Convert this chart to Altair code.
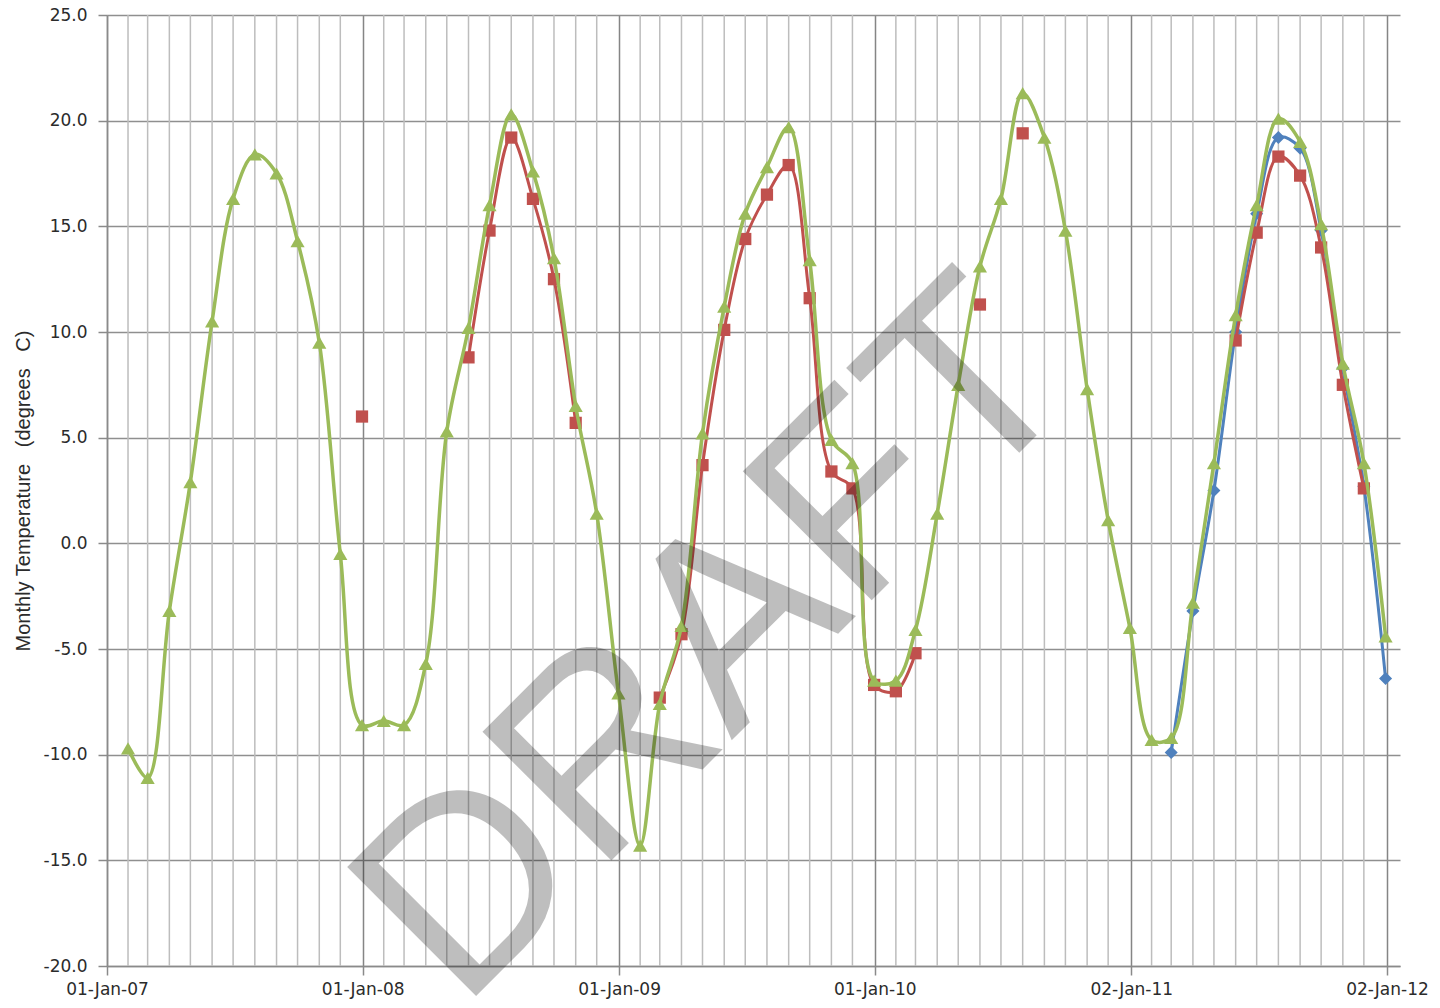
import altair as alt
import pandas as pd

# ---------------- data ----------------
years = [2007, 2008, 2009, 2010, 2011]
month_ends = [pd.Timestamp(y, m, 1) + pd.offsets.MonthEnd(0) for y in years for m in range(1, 13)]

green_temp = [
    -9.7, -11.1, -3.2, 2.9, 10.5, 16.3, 18.4, 17.5, 14.3, 9.5, -0.5, -8.6,
    -8.4, -8.6, -5.7, 5.3, 10.2, 16.0, 20.3, 17.6, 13.5, 6.5, 1.4, -7.1,
    -14.3, -7.6, -3.9, 5.2, 11.2, 15.6, 17.8, 19.7, 13.4, 4.9, 3.8, -6.5,
    -6.5, -4.1, 1.4, 7.5, 13.1, 16.3, 21.3, 19.2, 14.8, 7.3, 1.1, -4.0,
    -9.3, -9.2, -2.8, 3.8, 10.8, 16.0, 20.1, 19.0, 15.1, 8.5, 3.8, -4.4,
]
red_temp = [
    None, None, None, None, None, None, None, None, None, None, None, 6.0,
    None, None, None, None, 8.8, 14.8, 19.2, 16.3, 12.5, 5.7, None, None,
    None, -7.3, -4.3, 3.7, 10.1, 14.4, 16.5, 17.9, 11.6, 3.4, 2.6, -6.7,
    -7.0, -5.2, None, None, 11.3, None, 19.4, None, None, None, None, None,
    None, None, None, None, 9.6, 14.7, 18.3, 17.4, 14.0, 7.5, 2.6, None,
]
blue_temp = [None] * 48 + [
    None, -9.9, -3.2, 2.5, 10.0, 15.6, 19.2, 18.7, 14.8, 8.3, 2.7, -6.4,
]

x_tick_dates = [(2007, 1, 1), (2008, 1, 1), (2009, 1, 1), (2010, 1, 1), (2011, 1, 2), (2012, 1, 2)]
y_ticks = [-20, -15, -10, -5, 0, 5, 10, 15, 20, 25]
y_title = "Monthly Temperature\u00a0\u00a0 (degrees\u00a0\u00a0 C)"
watermark = "DRAFT"

GREEN, RED, BLUE = "#9BBB59", "#C0504D", "#4F81BD"


def frame(values):
    rows, seg, prev = [], 0, False
    for d, v in zip(month_ends, values):
        if v is None:
            prev = False
            continue
        if not prev:
            seg += 1
        rows.append({"date": d, "temp": v, "seg": seg})
        prev = True
    return pd.DataFrame(rows)


green_df = frame(green_temp)
red_df = frame(red_temp)
blue_df = frame(blue_temp)
minor_df = pd.DataFrame({"date": [d for d in month_ends if d.month != 12]})

# ---------------- encodings ----------------
X = alt.X(
    "date:T",
    scale=alt.Scale(
        domain=[alt.DateTime(year=2007, month=1, date=1),
                alt.DateTime(year=2012, month=1, date=20, hours=14)],
        nice=False,
    ),
    axis=alt.Axis(
        values=[alt.DateTime(year=y, month=m, date=d) for (y, m, d) in x_tick_dates],
        format="%d-%b-%y",
        title=None,
        labelFlush=False,
        labelFont="DejaVu Sans",
        labelFontSize=17,
        labelColor="#2b2b2b",
        labelPadding=6,
        tickSize=9,
        tickColor="#8a8a8a",
        tickWidth=1.5,
        domainColor="#8a8a8a",
        domainWidth=1.5,
        grid=True,
        gridColor="#858585",
        gridWidth=1.5,
    ),
)

Y = alt.Y(
    "temp:Q",
    scale=alt.Scale(domain=[-20, 25], nice=False, zero=False),
    axis=alt.Axis(
        values=y_ticks,
        format=".1f",
        labelExpr="replace(datum.label, '\u2212', '-')",
        title=y_title,
        titleFont="Liberation Sans",
        titleFontSize=20,
        titleFontWeight="normal",
        titleColor="#2b2b2b",
        titlePadding=10,
        labelFont="DejaVu Sans",
        labelFontSize=17,
        labelColor="#2b2b2b",
        labelPadding=11,
        tickSize=9,
        tickColor="#8a8a8a",
        tickWidth=1.5,
        domainColor="#8a8a8a",
        domainWidth=1.5,
        grid=True,
        gridColor="#8f8f8f",
        gridWidth=1.5,
    ),
)

minor = alt.Chart(minor_df).mark_rule(color="#bdbdbd", strokeWidth=1.5).encode(x=X)


def series(df, color, shape, size, width):
    line = alt.Chart(df).mark_line(color=color, strokeWidth=width, interpolate="catmull-rom").encode(
        x=X, y=Y, detail="seg:N"
    )
    pts = alt.Chart(df).mark_point(shape=shape, filled=True, size=size, color=color, opacity=1).encode(
        x=X, y=Y
    )
    return [line, pts]


layers = [minor]
layers += series(blue_df, BLUE, "diamond", 170, 3)
layers += series(red_df, RED, "square", 150, 3)
layers += series(green_df, GREEN, "triangle-up", 200, 3.5)

wm = alt.Chart(pd.DataFrame({"t": [watermark]})).mark_text(
    angle=315, fontSize=265, font="Liberation Sans", align="center", baseline="alphabetic",
    color="#000000", opacity=0.25,
).encode(text="t:N", x=alt.value(666), y=alt.value(684))
layers.append(wm)

chart = alt.layer(*layers).properties(
    width=1293,
    height=951,
    autosize=alt.AutoSizeParams(type="none"),
    padding={"left": 99, "top": 7, "right": 32, "bottom": 34},
    background="white",
).configure_view(stroke="transparent")

chart.save("out.html", embed_options={"renderer": "svg", "actions": False})
